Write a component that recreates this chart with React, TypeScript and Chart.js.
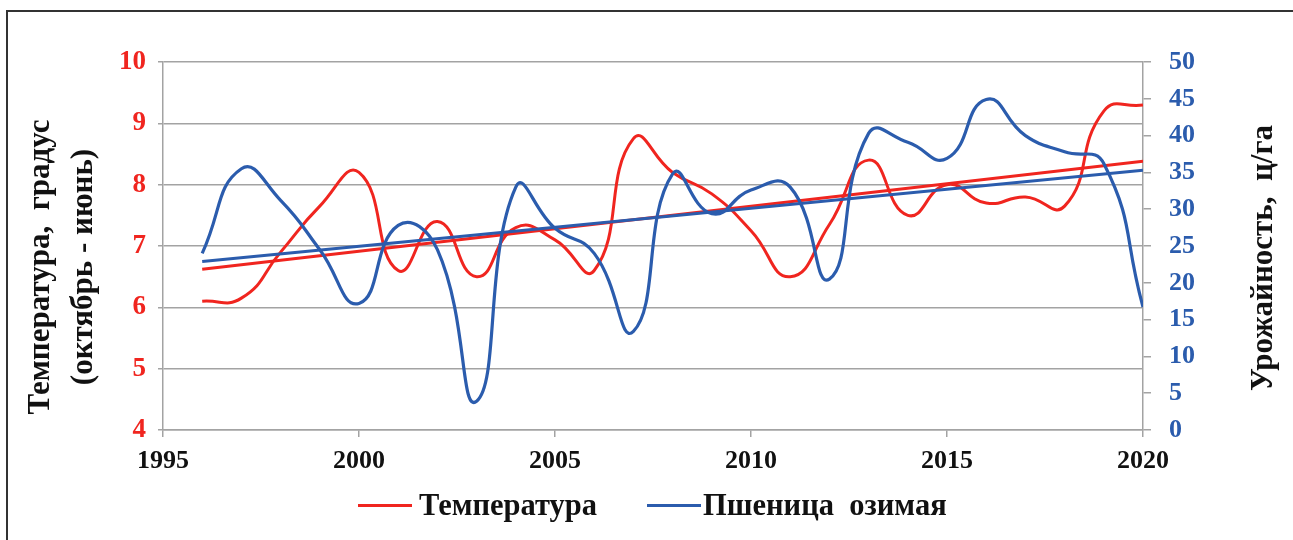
import React, { useEffect, useRef } from "react";
import { Chart, registerables } from "chart.js";

Chart.register(...registerables);

const years = [1996, 1997, 1998, 1999, 2000, 2001, 2002, 2003, 2004, 2005, 2006, 2007, 2008, 2009, 2010, 2011, 2012, 2013, 2014, 2015, 2016, 2017, 2018, 2019, 2020];
const temperature = [6.1, 6.15, 6.9, 7.65, 8.2, 6.6, 7.4, 6.5, 7.3, 7.1, 6.6, 8.75, 8.2, 7.85, 7.25, 6.5, 7.35, 8.4, 7.5, 8.0, 7.7, 7.8, 7.65, 9.2, 9.3];
const wheatYield = [24.0, 35.5, 31.2, 24.5, 17.2, 27.8, 24.5, 3.9, 33.0, 27.4, 24.0, 13.4, 34.8, 29.4, 32.6, 33.0, 20.5, 40.3, 39.1, 36.9, 44.9, 40.0, 37.8, 36.2, 16.7];
const trendYears = [1996, 2020];
const temperatureTrend = [6.62, 8.38];
const yieldTrend = [22.9, 35.3];
const xTicks = [1995, 2000, 2005, 2010, 2015, 2020];
const leftTicks = [4, 5, 6, 7, 8, 9, 10];
const rightTicks = [0, 5, 10, 15, 20, 25, 30, 35, 40, 45, 50];
const legendLabels = ["Температура", "Пшеница  озимая"];
const leftTitle = ["Температура,  градус", "(октябрь - июнь)"];
const rightTitle = "Урожайность,  ц/га";

const RED = "#f0251f";
const BLUE = "#2b5cad";
const GRID = "#a3a3a3";
const FONT = "'Liberation Serif', 'Times New Roman', serif";

export default function App() {
  const ref = useRef<HTMLCanvasElement | null>(null);

  useEffect(() => {
    if (!ref.current) return;
    const pts = (xs: number[], ys: number[]) => xs.map((x, i) => ({ x, y: ys[i] }));
    const chart = new Chart(ref.current, {
      type: "line",
      data: {
        datasets: [
          {
            label: legendLabels[1],
            data: pts(years, wheatYield),
            yAxisID: "yR",
            borderColor: BLUE,
            borderWidth: 3.2,
            pointRadius: 0,
            tension: 0.5,
            order: 0,
          },
          {
            label: "yieldTrend",
            data: pts(trendYears, yieldTrend),
            yAxisID: "yR",
            borderColor: BLUE,
            borderWidth: 3,
            pointRadius: 0,
            tension: 0,
            order: 1,
          },
          {
            label: legendLabels[0],
            data: pts(years, temperature),
            yAxisID: "y",
            borderColor: RED,
            borderWidth: 3,
            pointRadius: 0,
            tension: 0.5,
            order: 2,
          },
          {
            label: "temperatureTrend",
            data: pts(trendYears, temperatureTrend),
            yAxisID: "y",
            borderColor: RED,
            borderWidth: 3,
            pointRadius: 0,
            tension: 0,
            order: 3,
          },
        ],
      },
      options: {
        animation: false,
        responsive: false,
        layout: { padding: { top: 62, left: 0, right: 0, bottom: 0 } },
        plugins: { legend: { display: false }, tooltip: { enabled: false } },
        scales: {
          x: {
            type: "linear",
            min: 1995,
            max: 2020,
            afterBuildTicks: (s: any) => {
              s.ticks = xTicks.map((v) => ({ value: v }));
            },
            afterFit: (s: any) => {
              s.height = 110;
            },
            ticks: {
              callback: (v: any) => String(v),
              color: "#111",
              font: { family: FONT, size: 26, weight: "bold" },
              padding: 9,
              maxRotation: 0,
            },
            grid: { drawOnChartArea: false, color: GRID, lineWidth: 1.5, tickLength: 7 },
            border: { color: GRID, width: 1.5 },
          },
          y: {
            position: "left",
            min: 4,
            max: 10,
            afterBuildTicks: (s: any) => {
              s.ticks = leftTicks.map((v) => ({ value: v }));
            },
            afterFit: (s: any) => {
              s.width = 163;
            },
            ticks: {
              color: RED,
              font: { family: FONT, size: 27, weight: "bold" },
              padding: 12,
            },
            grid: { color: GRID, lineWidth: 1.5, tickLength: 5 },
            border: { color: GRID, width: 1.5 },
          },
          yR: {
            position: "right",
            min: 0,
            max: 50,
            afterBuildTicks: (s: any) => {
              s.ticks = rightTicks.map((v) => ({ value: v }));
            },
            afterFit: (s: any) => {
              s.width = 150;
            },
            ticks: {
              color: BLUE,
              font: { family: FONT, size: 26, weight: "bold" },
              padding: 18,
            },
            grid: { drawOnChartArea: false, color: GRID, lineWidth: 1.5, tickLength: 8 },
            border: { color: GRID, width: 1.5 },
          },
        },
      },
    } as any);
    return () => chart.destroy();
  }, []);

  const textStyle: React.CSSProperties = {
    fontFamily: FONT,
    fontWeight: "bold",
    color: "#111",
    whiteSpace: "pre",
  };

  return (
    <div
      style={{
        position: "absolute",
        left: 0,
        top: 0,
        width: 1293,
        height: 540,
        overflow: "hidden",
        background: "#fff",
      }}
    >
      <div
        style={{
          position: "absolute",
          left: 6,
          top: 10,
          width: 1400,
          height: 700,
          border: "2px solid #333",
          boxSizing: "border-box",
        }}
      />
      <canvas ref={ref} width={1293} height={540} style={{ position: "absolute", left: 0, top: 0 }} />
      <div
        style={{
          ...textStyle,
          position: "absolute",
          left: 62 - 200,
          top: 267 - 45,
          width: 400,
          height: 90,
          fontSize: 31,
          lineHeight: "43px",
          textAlign: "center",
          transform: "rotate(-90deg)",
        }}
      >
        {leftTitle.join("\n")}
      </div>
      <div
        style={{
          ...textStyle,
          position: "absolute",
          left: 1262 - 200,
          top: 258 - 20,
          width: 400,
          height: 40,
          fontSize: 31,
          lineHeight: "40px",
          textAlign: "center",
          transform: "rotate(-90deg)",
        }}
      >
        {rightTitle}
      </div>
      <div style={{ position: "absolute", left: 358, top: 503.5, width: 54, height: 3, background: RED }} />
      <div style={{ ...textStyle, position: "absolute", left: 419, top: 487, fontSize: 30.5, lineHeight: "36px" }}>
        {legendLabels[0]}
      </div>
      <div style={{ position: "absolute", left: 647, top: 503.5, width: 54, height: 3, background: BLUE }} />
      <div style={{ ...textStyle, position: "absolute", left: 703, top: 487, fontSize: 30.5, lineHeight: "36px" }}>
        {legendLabels[1]}
      </div>
    </div>
  );
}
